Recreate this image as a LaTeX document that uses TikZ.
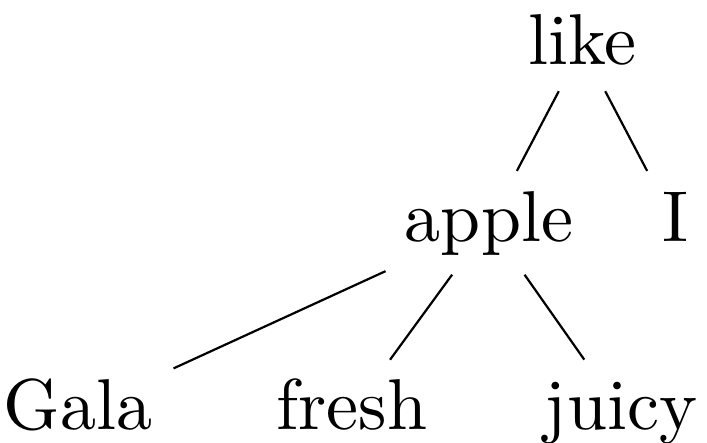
\documentclass[tikz,border=0pt]{standalone}
\usepackage{fontspec}
\setmainfont{lmroman10-regular}[Extension=.otf]
\begin{document}
\begin{tikzpicture}[x=1pt,y=-1pt]
  \tikzset{ w/.style={anchor=base,inner sep=12pt,text height=50pt,text depth=14pt,font=\fontsize{72}{86}\selectfont},
    e/.style={-,line width=2.2pt,shorten >=10pt},
  }
  \useasboundingbox (0,0) rectangle (707,443);
  \node[w] (like) at (582, 65) {like};
  \node[w] (apple) at (489, 242) {apple};
  \node[w] (I) at (675, 242) {I};
  \node[w] (Gala) at (78, 430) {Gala};
  \node[w] (fresh) at (352, 430) {fresh};
  \node[w] (juicy) at (621, 430) {juicy};

  % the edges of the tree
  \draw[e] (like) -- (apple);
  \draw[e] (like) -- (I);

  \draw[e,shorten <=8pt] (apple) -- (Gala);
  \draw[e,shorten <=8pt] (apple) -- (fresh);
  \draw[e,shorten <=8pt] (apple) -- (juicy);
\end{tikzpicture}
\end{document}
